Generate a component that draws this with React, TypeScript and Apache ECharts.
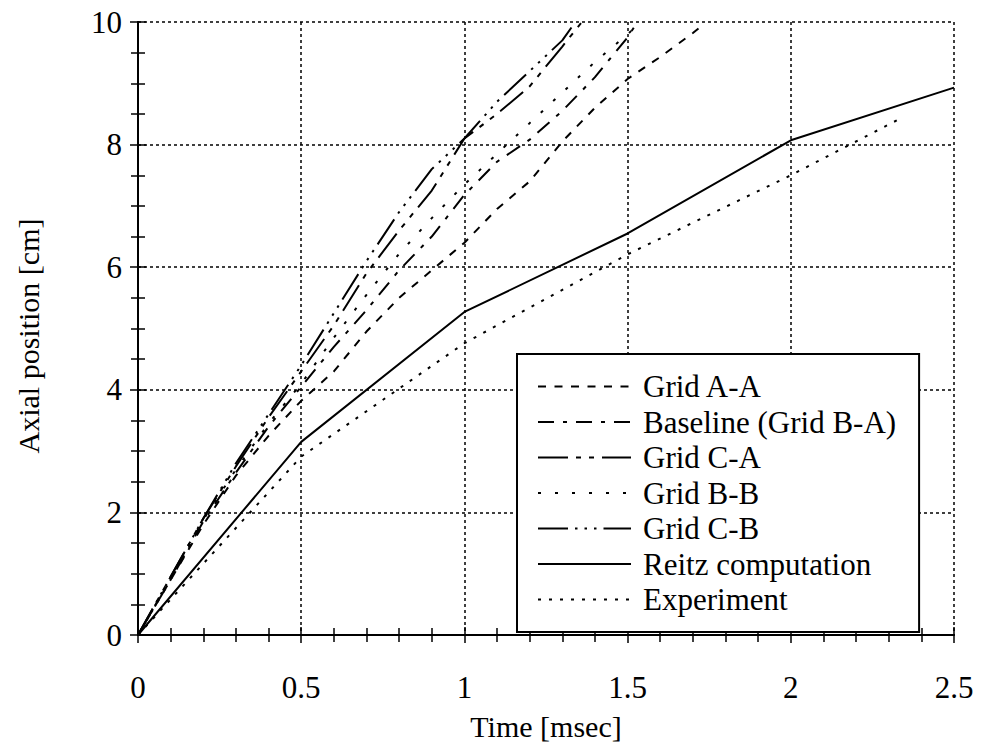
import React, { useEffect, useRef } from "react";
import * as echarts from "echarts";

const seriesNames = [
  "Grid A-A",
  "Baseline (Grid B-A)",
  "Grid C-A",
  "Grid B-B",
  "Grid C-B",
  "Reitz computation",
  "Experiment",
];

const gridAATime = [0, 0.1, 0.2, 0.3, 0.4, 0.5, 0.6, 0.7, 0.8, 0.9, 1.0, 1.1, 1.2, 1.3, 1.4, 1.5, 1.6, 1.7, 1.73];
const gridAAPos = [0, 0.9, 1.8, 2.6, 3.25, 3.82, 4.3, 4.95, 5.5, 5.95, 6.4, 6.95, 7.4, 8.05, 8.6, 9.07, 9.43, 9.82, 9.95];

const baselineTime = [0, 0.1, 0.2, 0.3, 0.4, 0.5, 0.6, 0.7, 0.8, 0.9, 1.0, 1.1, 1.2, 1.3, 1.4, 1.5, 1.53];
const baselinePos = [0, 0.9, 1.85, 2.65, 3.4, 4.05, 4.7, 5.3, 5.95, 6.5, 7.18, 7.72, 8.08, 8.55, 9.1, 9.75, 10];

const gridCATime = [0, 0.1, 0.2, 0.3, 0.4, 0.5, 0.6, 0.7, 0.8, 0.9, 1.0, 1.1, 1.2, 1.3, 1.36];
const gridCAPos = [0, 0.95, 1.9, 2.75, 3.55, 4.3, 5.05, 5.9, 6.6, 7.25, 8.1, 8.5, 8.95, 9.6, 10];

const gridBBTime = [0, 0.1, 0.2, 0.3, 0.4, 0.5, 0.6, 0.7, 0.8, 0.9, 1.0, 1.1, 1.2, 1.3, 1.4, 1.5, 1.54];
const gridBBPos = [0, 0.92, 1.88, 2.7, 3.45, 4.1, 4.85, 5.55, 6.22, 6.8, 7.35, 7.85, 8.35, 8.85, 9.35, 9.8, 10];

const gridCBTime = [0, 0.1, 0.2, 0.3, 0.4, 0.5, 0.6, 0.7, 0.8, 0.9, 1.0, 1.1, 1.2, 1.3, 1.34];
const gridCBPos = [0, 0.95, 1.9, 2.8, 3.6, 4.4, 5.25, 6.1, 6.9, 7.6, 8.1, 8.7, 9.2, 9.7, 10];

const reitzTime = [0, 0.5, 1.0, 1.5, 2.0, 2.5];
const reitzPos = [0, 3.15, 5.27, 6.55, 8.07, 8.93];

const expTime = [0, 0.5, 1.0, 1.5, 2.0, 2.33];
const expPos = [0, 2.91, 4.76, 6.21, 7.5, 8.41];

const xTicks = { min: 0, max: 2.5, interval: 0.5 };
const yTicks = { min: 0, max: 10, interval: 2 };

const xTitle = "Time [msec]";
const yTitle = "Axial position [cm]";

const FONT = "Liberation Serif";

function pairs(t: number[], v: number[]) {
  return t.map((x, i) => [x, v[i]]);
}

export default function App() {
  const ref = useRef<HTMLDivElement>(null);
  useEffect(() => {
    if (!ref.current) return;
    const chart = echarts.init(ref.current, undefined, { renderer: "svg" });
    const axisCommon = {
      axisLine: { show: true, lineStyle: { color: "#000", width: 2 } },
      axisTick: { show: true, inside: true, length: 8, lineStyle: { color: "#000", width: 1.5 } },
      minorTick: { show: true, length: 7, lineStyle: { color: "#000", width: 1.5 } },
    };
    const mk = (name: string, data: number[][], type: any) => ({
      name,
      type: "line",
      data,
      symbol: "none",
      smooth: false,
      clip: true,
      lineStyle: { color: "#000", width: 2, type },
      itemStyle: { color: "#000" },
    });
    chart.setOption({
      animation: false,
      backgroundColor: "#fff",
      grid: { left: 138, top: 22, right: 28, bottom: 111, containLabel: false },
      xAxis: [
        {
          type: "value",
          ...xTicks,
          ...axisCommon,
          minorTick: { ...axisCommon.minorTick, splitNumber: 5 },
          axisLabel: { color: "#000", fontFamily: FONT, fontSize: 31, margin: 37 },
          splitLine: { show: true, lineStyle: { color: "#000", type: [3, 3], width: 1.5 } },
          name: xTitle,
          nameLocation: "middle",
          nameGap: 76,
          nameTextStyle: { color: "#000", fontFamily: FONT, fontSize: 30 },
        },
        {
          type: "value",
          position: "top",
          ...xTicks,
          ...axisCommon,
          minorTick: { ...axisCommon.minorTick, splitNumber: 5 },
          axisLabel: { show: false },
          splitLine: { show: false },
        },
      ],
      yAxis: [
        {
          type: "value",
          ...yTicks,
          ...axisCommon,
          minorTick: { ...axisCommon.minorTick, splitNumber: 4 },
          axisLabel: { color: "#000", fontFamily: FONT, fontSize: 31, margin: 16 },
          splitLine: { show: true, lineStyle: { color: "#000", type: [3, 3], width: 1.5 } },
        },
        {
          type: "value",
          position: "right",
          ...yTicks,
          ...axisCommon,
          minorTick: { ...axisCommon.minorTick, splitNumber: 4 },
          axisLabel: { show: false },
          splitLine: { show: false },
        },
      ],
      graphic: [
        {
          type: "text",
          x: 28,
          y: 336,
          rotation: Math.PI / 2,
          style: {
            text: yTitle,
            fill: "#000",
            font: "30px " + FONT,
            align: "center",
            verticalAlign: "middle",
          },
        },
      ],
      legend: {
        orient: "vertical",
        left: 517,
        top: 354,
        itemWidth: 93,
        itemHeight: 14,
        itemGap: 0.5,
        padding: [15, 23, 15, 20],
        borderColor: "#000",
        borderWidth: 2,
        backgroundColor: "#fff",
        itemStyle: { opacity: 0 },
        textStyle: { color: "#000", fontFamily: FONT, fontSize: 31, lineHeight: 35, padding: [0, 0, 0, 7] },
        data: seriesNames,
      },
      series: [
        mk(seriesNames[0], pairs(gridAATime, gridAAPos), [8, 8.5]),
        mk(seriesNames[1], pairs(baselineTime, baselinePos), [16, 9, 4, 9]),
        mk(seriesNames[2], pairs(gridCATime, gridCAPos), [30, 8, 5, 8, 5, 8]),
        mk(seriesNames[3], pairs(gridBBTime, gridBBPos), [3, 14]),
        mk(seriesNames[4], pairs(gridCBTime, gridCBPos), [30, 7, 2.5, 7, 2.5, 7, 2.5, 7]),
        mk(seriesNames[5], pairs(reitzTime, reitzPos), "solid"),
        mk(seriesNames[6], pairs(expTime, expPos), [3, 8]),
      ],
    });
    return () => chart.dispose();
  }, []);
  return <div ref={ref} style={{ position: "fixed", left: 0, top: 0, width: 982, height: 746 }} />;
}
